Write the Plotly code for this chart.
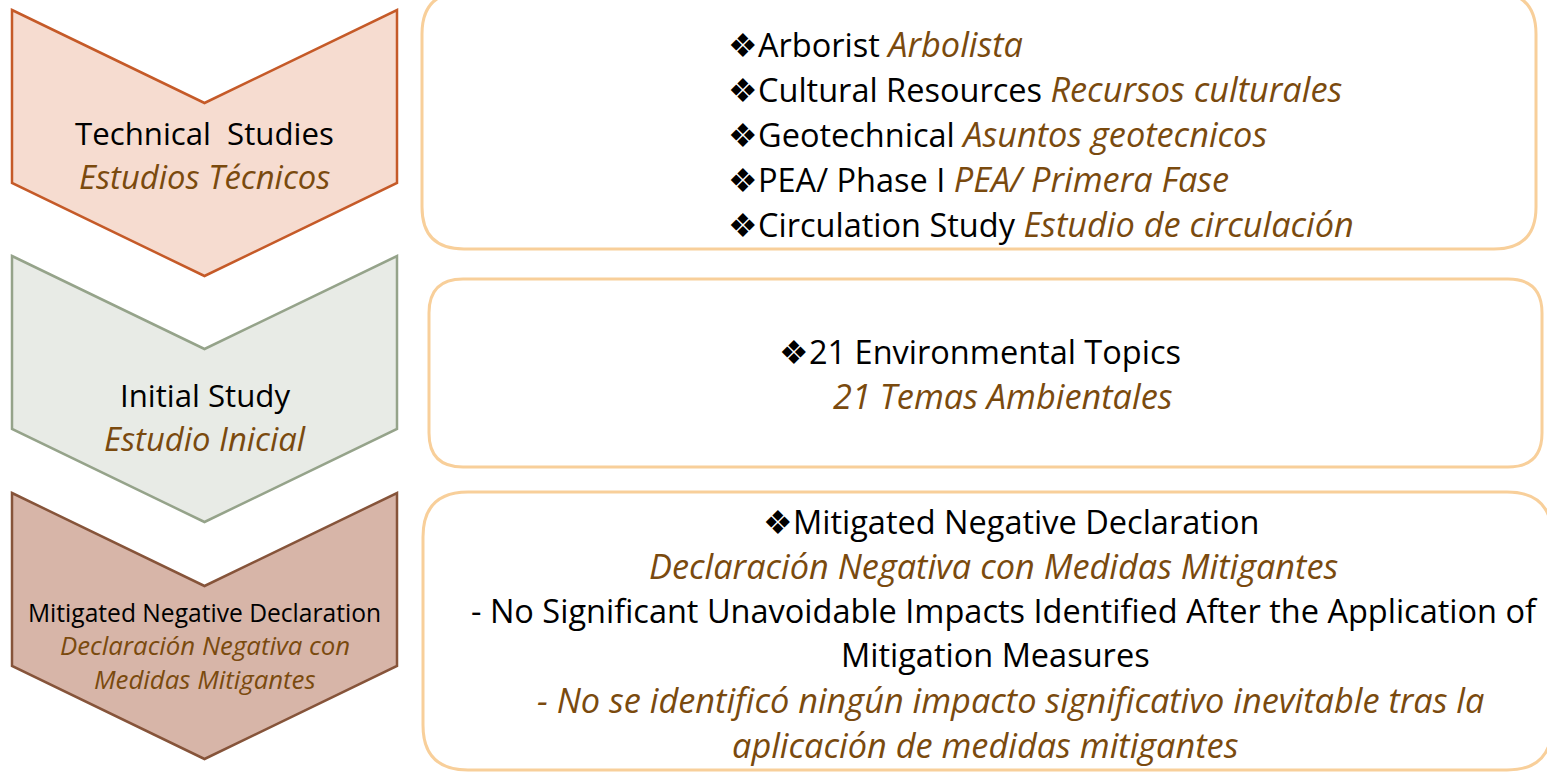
import plotly.graph_objects as go

W, H = 1547, 772

# ---- content ----
stage_en = ["Technical  Studies", "Initial Study", "Mitigated Negative Declaration"]
stage_es = [["Estudios Técnicos"], ["Estudio Inicial"], ["Declaración Negativa con", "Medidas Mitigantes"]]
stage_fill = ["#F6DCD0", "#E8EBE6", "#D7B5A8"]
stage_line = ["#C55A28", "#95A38A", "#86543A"]

box1_en = ["Arborist", "Cultural Resources", "Geotechnical", "PEA/ Phase I", "Circulation Study"]
box1_es = ["Arbolista", "Recursos culturales", "Asuntos geotecnicos", "PEA/ Primera Fase", "Estudio de circulación"]

box2_lines = [("❖21 Environmental Topics", False), ("21 Temas Ambientales", True)]
box3_lines = [
    ("❖Mitigated Negative Declaration", False),
    ("Declaración Negativa con Medidas Mitigantes", True),
    ("- No Significant Unavoidable Impacts Identified After the Application of", False),
    ("Mitigation Measures", False),
    ("- No se identificó ningún impacto significativo inevitable tras la", True),
    ("aplicación de medidas mitigantes", True),
]

# ---- layout geometry ----
chev_x0, chev_x1 = 12, 397
chev_top = [10, 256, 493]
chev_notch = 93
chev_side = 173

boxes = [  # x0, y0, x1, y1, r
    (422, -8, 1536, 249, 42),
    (429, 279, 1542, 467, 34),
    (423, 492, 1552, 770, 45),
]

FONT = "'Open Sans', sans-serif"
BROWN = "#7A4A0E"
REG, ITA = 32.5, 34.3          # box text sizes (regular / italic)
REG_C, ITA_C = 31.2, 32.8      # large chevron text sizes
REG_S, ITA_S = 24.6, 25.8      # small chevron text sizes

fig = go.Figure()
fig.update_xaxes(range=[0, W], visible=False, fixedrange=True)
fig.update_yaxes(range=[H, 0], visible=False, fixedrange=True)

shapes = []
for i in range(3):
    t = chev_top[i]
    xm = (chev_x0 + chev_x1) / 2
    p = (f"M {chev_x0},{t} L {xm},{t + chev_notch} L {chev_x1},{t} "
         f"L {chev_x1},{t + chev_side} L {xm},{t + chev_side + chev_notch} "
         f"L {chev_x0},{t + chev_side} Z")
    shapes.append(dict(type="path", path=p, xref="x", yref="y",
                       fillcolor=stage_fill[i], line=dict(color=stage_line[i], width=2.5),
                       layer="below"))


def rrect(x0, y0, x1, y1, r):
    return (f"M {x0 + r},{y0} L {x1 - r},{y0} Q {x1},{y0} {x1},{y0 + r} "
            f"L {x1},{y1 - r} Q {x1},{y1} {x1 - r},{y1} L {x0 + r},{y1} "
            f"Q {x0},{y1} {x0},{y1 - r} L {x0},{y0 + r} Q {x0},{y0} {x0 + r},{y0} Z")


for (x0, y0, x1, y1, r) in boxes:
    shapes.append(dict(type="path", path=rrect(x0, y0, x1, y1, r), xref="x", yref="y",
                       fillcolor="rgba(255,255,255,0)", line=dict(color="#F8CF9A", width=3),
                       layer="below"))

ann = []


def add(text, x, y, size, color="#000000", italic=False, xanchor="center"):
    if italic:
        text = f"<i>{text}</i>"
    ann.append(dict(text=text, x=x, y=y, xref="x", yref="y", showarrow=False,
                    xanchor=xanchor, yanchor="middle",
                    font=dict(family=FONT, size=size, color=color)))


# chevron labels (separate lines, spaced so their text boxes do not collide)
xm = (chev_x0 + chev_x1) / 2
add(stage_en[0], xm, 133, REG_C)
add(stage_es[0][0], xm, 176, ITA_C, BROWN, True)
add(stage_en[1], xm, 395, REG_C)
add(stage_es[1][0], xm, 438, ITA_C, BROWN, True)
add(stage_en[2], xm, 612, REG_S)
add(stage_es[2][0], xm, 645, ITA_S, BROWN, True)
add(stage_es[2][1], xm, 679, ITA_S, BROWN, True)

# box 1 bullets
for k, (en, es) in enumerate(zip(box1_en, box1_es)):
    y = 43 + 45 * k
    add(f"❖{en} <span style='color:{BROWN};font-size:{ITA}px'><i>{es}</i></span>",
        726, y, REG, xanchor="left")

# box 2
b2_y = [351, 395]
b2_x = [980, 1003]
for (txt, it), y, x in zip(box2_lines, b2_y, b2_x):
    add(txt, x, y, ITA if it else REG, BROWN if it else "#000000", it)

# box 3
b3_y = [521, 565, 610, 654, 699, 744]
b3_x = [1011, 994, 1004, 995, 1010, 985]
for (txt, it), y, x in zip(box3_lines, b3_y, b3_x):
    add(txt, x, y, ITA if it else REG, BROWN if it else "#000000", it)

fig.update_layout(width=W, height=H, margin=dict(l=0, r=0, t=0, b=0),
                  paper_bgcolor="white", plot_bgcolor="white",
                  shapes=shapes, annotations=ann, showlegend=False)

fig.write_html("out.html", config={"displayModeBar": False},
               post_script="document.body.style.margin='0';document.body.style.overflow='hidden';")
